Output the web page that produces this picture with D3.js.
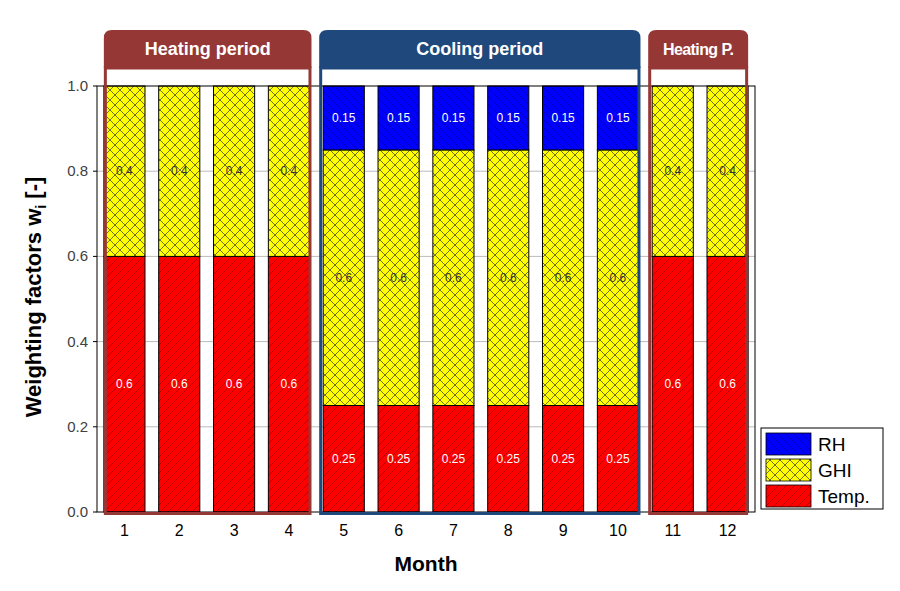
<!DOCTYPE html>
<html><head><meta charset="utf-8">
<script src="https://cdn.jsdelivr.net/npm/d3@7"></script>
<style>body{margin:0;background:#fff}svg{font-family:"Liberation Sans",Arial,sans-serif}</style>
</head><body><svg id="c" width="900" height="591"></svg>
<script>
const months = ["1","2","3","4","5","6","7","8","9","10","11","12"];
const temp = [0.6,0.6,0.6,0.6,0.25,0.25,0.25,0.25,0.25,0.25,0.6,0.6];
const ghi  = [0.4,0.4,0.4,0.4,0.6,0.6,0.6,0.6,0.6,0.6,0.4,0.4];
const rh   = [0,0,0,0,0.15,0.15,0.15,0.15,0.15,0.15,0,0];
const yTicks = [0,0.2,0.4,0.6,0.8,1.0];
const periodLabels = ["Heating period","Cooling period","Heating P."];
const periodFirst = ["1","5","11"];
const periodLast = ["4","10","12"];
const periodColors = ["#953735","#1F497D","#953735"];
const seriesNames = ["RH","GHI","Temp."];

const svg = d3.select("#c");
const L=97,R=755,T=86,B=512;
const x = d3.scaleBand().domain(months).range([L,R]).paddingInner(0.25).paddingOuter(0.125);
const y = d3.scaleLinear().domain([0,1]).range([B,T]);

const defs = svg.append("defs");
function hatch(id, fill, dir, stroke, sp, sw){
  const p = defs.append("pattern").attr("id",id).attr("patternUnits","userSpaceOnUse").attr("width",sp).attr("height",sp);
  p.append("rect").attr("width",sp).attr("height",sp).attr("fill",fill);
  if(dir==="/"||dir==="x"){
    p.append("path").attr("d",`M0,${sp} L${sp},0 M${-sp/2},${sp/2} L${sp/2},${-sp/2} M${sp/2},${sp*1.5} L${sp*1.5},${sp/2}`).attr("stroke",stroke).attr("stroke-width",sw);
  }
  if(dir==="\\"||dir==="x"){
    p.append("path").attr("d",`M0,0 L${sp},${sp} M${-sp/2},${sp/2} L${sp/2},${sp*1.5} M${sp/2},${-sp/2} L${sp*1.5},${sp/2}`).attr("stroke",stroke).attr("stroke-width",sw);
  }
}
hatch("pTemp","#FF0000","/","#9a0000",8,0.7);
hatch("pGhi","#FFFF00","x","#333",10,0.7);
hatch("pRh","#0000FF","\\","#0000a0",8,0.7);

// gridlines
svg.append("g").selectAll("line").data(yTicks.filter(d=>d>0&&d<1)).join("line")
  .attr("x1",L).attr("x2",R).attr("y1",d=>y(d)).attr("y2",d=>y(d)).attr("stroke","#bbb").attr("stroke-width",1);

// bars
const series = [
  {vals:temp, base:months.map(()=>0), fill:"url(#pTemp)", txt:"#fff"},
  {vals:ghi, base:temp, fill:"url(#pGhi)", txt:"#333"},
  {vals:rh, base:temp.map((t,i)=>t+ghi[i]), fill:"url(#pRh)", txt:"#fff"}
];
series.forEach(s=>{
  const g = svg.append("g");
  months.forEach((m,i)=>{
    if(s.vals[i]<=0) return;
    g.append("rect").attr("x",x(m)).attr("width",x.bandwidth())
      .attr("y",y(s.base[i]+s.vals[i])).attr("height",y(s.base[i])-y(s.base[i]+s.vals[i]))
      .attr("fill",s.fill).attr("stroke","#000").attr("stroke-width",1);
    g.append("text").attr("x",x(m)+x.bandwidth()/2).attr("y",y(s.base[i]+s.vals[i]/2)+4)
      .attr("text-anchor","middle").attr("font-size",12).attr("fill",s.txt).text(String(s.vals[i]));
  });
});

// frame
svg.append("rect").attr("x",L).attr("y",T).attr("width",R-L).attr("height",B-T).attr("fill","none").attr("stroke","#000").attr("stroke-width",1);

// y axis labels
svg.append("g").selectAll("text").data(yTicks).join("text")
  .attr("x",L-9).attr("y",d=>y(d)+5).attr("text-anchor","end").attr("font-size",15).attr("fill","#404040")
  .text(d3.format(".1f"));
svg.append("g").selectAll("line").data(yTicks).join("line")
  .attr("x1",L-4).attr("x2",L).attr("y1",d=>y(d)).attr("y2",d=>y(d)).attr("stroke","#000");
// x labels
svg.append("g").selectAll("text").data(months).join("text")
  .attr("x",d=>x(d)+x.bandwidth()/2).attr("y",536).attr("text-anchor","middle").attr("font-size",16).attr("fill","#000").text(d=>d);

// period boxes
const hdrTop=30, hdrBot=68, boxBot=515;
periodLabels.forEach((lab,i)=>{
  const x0 = x(periodFirst[i]) - (i===0?0:4), x1 = x(periodLast[i])+x.bandwidth()+(i===2?0:2);
  const c = periodColors[i], r=8;
  svg.append("path").attr("d",`M${x0},${hdrBot} L${x0},${hdrTop+r} Q${x0},${hdrTop} ${x0+r},${hdrTop} L${x1-r},${hdrTop} Q${x1},${hdrTop} ${x1},${hdrTop+r} L${x1},${hdrBot} Z`)
    .attr("fill",c);
  svg.append("rect").attr("x",x0+1.5).attr("y",hdrBot).attr("width",x1-x0-3).attr("height",boxBot-hdrBot-1.5)
    .attr("fill","none").attr("stroke",c).attr("stroke-width",3);
  svg.append("text").attr("x",(x0+x1)/2).attr("y",(hdrTop+hdrBot)/2+6).attr("text-anchor","middle")
    .attr("font-size",i===2?16:18).attr("font-weight","bold").attr("fill","#fff").attr("letter-spacing",i===2?-0.6:0).text(lab);
});

// axis titles
svg.append("text").attr("transform","translate(41,297) rotate(-90)").attr("text-anchor","middle")
  .attr("font-size",22).attr("font-weight","bold").attr("fill","#000")
  .html('Weighting factors w<tspan font-size="14" dy="5">i</tspan><tspan dy="-5"> [-]</tspan>');
svg.append("text").attr("x",426).attr("y",571).attr("text-anchor","middle").attr("font-size",21).attr("font-weight","bold").attr("fill","#000").text("Month");

// legend
const lg = svg.append("g");
lg.append("rect").attr("x",761).attr("y",428).attr("width",122).attr("height",81).attr("fill","#fff").attr("stroke","#000").attr("stroke-width",1);
const lfills=["url(#pRh)","url(#pGhi)","url(#pTemp)"];
seriesNames.forEach((n,i)=>{
  const yy = 433+i*26;
  lg.append("rect").attr("x",766).attr("y",yy).attr("width",45).attr("height",22).attr("fill",lfills[i]).attr("stroke","#000").attr("stroke-width",0.8);
  lg.append("text").attr("x",818).attr("y",yy+18).attr("font-size",19).attr("fill","#000").text(n);
});
</script></body></html>
